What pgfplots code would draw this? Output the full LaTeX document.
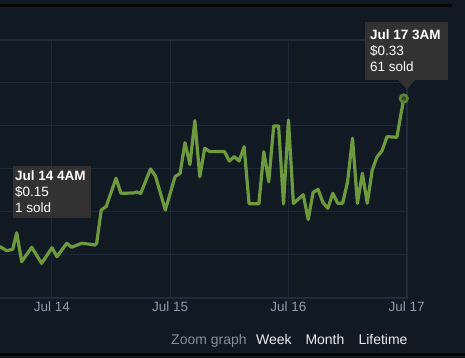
\documentclass[border=0pt]{standalone}
\usepackage{pgfplots}
\pgfplotsset{compat=1.18}
\usepackage{fontspec}
\setmainfont{Liberation Sans}
\definecolor{bgcol}{HTML}{111923}
\definecolor{gridcol}{HTML}{1C2835}
\definecolor{framecol}{HTML}{1F2C3B}
\definecolor{linecol}{HTML}{6C9A3C}
\definecolor{tickcol}{HTML}{8E9BAB}
\definecolor{zoomcol}{HTML}{838E9A}
\definecolor{tipcol}{HTML}{323232}
\begin{document}
\begin{tikzpicture}[x=1pt,y=1pt]
\useasboundingbox (0,0) rectangle (465,358);
\clip (0,0) rectangle (465,358);
\fill[bgcol] (0,0) rectangle (465,358);
\fill[black!90!bgcol] (0,351) rectangle (452,353.5);
\fill[black!90!bgcol] (0,2) rectangle (465,4.5);
\begin{axis}[
  at={(-3pt,60pt)}, anchor=south west,
  scale only axis, width=409.7pt, height=258pt,
  xmin=-11.16, xmax=72, ymin=0.10, ymax=0.40,
  xtick={0,24,48,72}, xticklabels={Jul 14,Jul 15,Jul 16,Jul 17},
  ytick={0.10,0.15,0.20,0.25,0.30,0.35,0.40}, yticklabels={},
  major tick length=0pt,
  grid=major, grid style={gridcol, line width=1pt},
  axis line style={framecol, line width=2pt},
  xticklabel style={tickcol, font=\fontsize{13.5}{16}\selectfont, anchor=base, yshift=-13.7pt},
  clip=false,
]
\addplot[linecol, line width=3.2pt, line join=round, line cap=round] coordinates {
(-10.55,0.1597) (-9.19,0.1550) (-7.97,0.1566) (-7.16,0.1759) (-6.15,0.1422)
(-4.12,0.1590) (-2.09,0.1403) (0,0.1585) (1,0.1480) (3,0.1636) (4,0.1590)
(6,0.1636) (7.36,0.1628) (8.72,0.1616) (9.07,0.1636) (10,0.2023) (11,0.2064)
(13,0.2392) (14,0.2217) (16.5,0.2221) (17.24,0.2233) (18,0.2215) (20,0.2500)
(21,0.2419) (23,0.2023) (25,0.2413) (26,0.2448) (27,0.2806) (28,0.2552)
(29,0.3062) (30,0.2410) (31,0.2741) (32,0.2703) (35,0.2703) (36,0.2593)
(37,0.2643) (38,0.2593) (39,0.2759) (40,0.2097) (42,0.2097) (43,0.2701)
(44,0.2352) (45,0.3000) (46,0.3000) (47,0.2093) (48,0.3070) (49,0.2099)
(51,0.2201) (52,0.1913) (53,0.2227) (54,0.2264) (55,0.2110) (56,0.2043)
(57,0.2217) (58,0.2101) (59,0.2101) (60,0.2352) (61,0.2857) (62,0.2101)
(63,0.2450) (64,0.2101) (65,0.2488) (66,0.2643) (67,0.2713) (68,0.2876)
(70,0.2869) (71.4,0.3320)
};
\addplot[only marks, mark=*, mark size=3.8pt, mark options={draw=linecol!85!black, fill=linecol!35!bgcol, line width=2.6pt}] coordinates {(71.4,0.3320)};
\end{axis}
% tooltip 1
\fill[tipcol] (13.3,358-217.7) rectangle (90.7,358-166);
\node[anchor=base west, white, inner sep=0pt, font=\fontsize{13.5}{16}\selectfont\bfseries] at (15,358-181) {Jul 14 4AM};
\node[anchor=base west, white, inner sep=0pt, font=\fontsize{13.5}{16}\selectfont] at (15,358-197) {\$0.15};
\node[anchor=base west, white, inner sep=0pt, font=\fontsize{13.5}{16}\selectfont] at (15,358-213) {1 sold};
% tooltip 2
\fill[tipcol] (365.3,358-80) rectangle (447.7,358-22);
\fill[tipcol] (398.3,358-80) -- (415,358-80) -- (406.7,358-89.3) -- cycle;
\node[anchor=base west, white, inner sep=0pt, font=\fontsize{13.5}{16}\selectfont\bfseries] at (370,358-40) {Jul 17 3AM};
\node[anchor=base west, white, inner sep=0pt, font=\fontsize{13.5}{16}\selectfont] at (370,358-56) {\$0.33};
\node[anchor=base west, white, inner sep=0pt, font=\fontsize{13.5}{16}\selectfont] at (370,358-72) {61 sold};
% zoom links
\node[anchor=base west, zoomcol, inner sep=0pt, font=\fontsize{14}{16}\selectfont] at (171,358-344.3) {Zoom graph};
\node[anchor=base west, white!92!bgcol, inner sep=0pt, font=\fontsize{14}{16}\selectfont] at (256,358-344.3) {Week};
\node[anchor=base west, white!92!bgcol, inner sep=0pt, font=\fontsize{14}{16}\selectfont] at (305.3,358-344.3) {Month};
\node[anchor=base west, white!92!bgcol, inner sep=0pt, font=\fontsize{14}{16}\selectfont] at (358.3,358-344.3) {Lifetime};
\end{tikzpicture}
\end{document}
